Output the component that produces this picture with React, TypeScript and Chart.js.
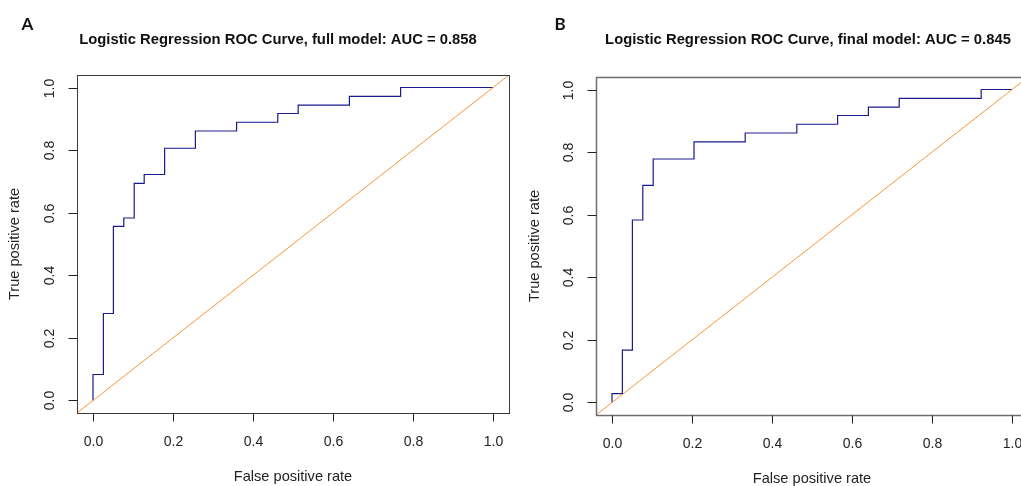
import React, { useEffect, useRef } from "react";
import { Chart, registerables } from "chart.js";

Chart.register(...registerables);

// ROC curve corners, full model (false positive rate / true positive rate)
const fprFull = [0, 0, 0.026, 0.026, 0.051, 0.051, 0.077, 0.077, 0.103, 0.103, 0.128, 0.128, 0.179, 0.179, 0.256, 0.256, 0.359, 0.359, 0.462, 0.462, 0.513, 0.513, 0.641, 0.641, 0.769, 0.769, 1];
const tprFull = [0, 0.083, 0.083, 0.278, 0.278, 0.556, 0.556, 0.583, 0.583, 0.694, 0.694, 0.722, 0.722, 0.806, 0.806, 0.861, 0.861, 0.889, 0.889, 0.917, 0.917, 0.944, 0.944, 0.972, 0.972, 1, 1];

// ROC curve corners, final model
const fprFinal = [0, 0, 0.026, 0.026, 0.051, 0.051, 0.077, 0.077, 0.103, 0.103, 0.205, 0.205, 0.333, 0.333, 0.462, 0.462, 0.564, 0.564, 0.641, 0.641, 0.718, 0.718, 0.923, 0.923, 1];
const tprFinal = [0, 0.028, 0.028, 0.167, 0.167, 0.583, 0.583, 0.694, 0.694, 0.778, 0.778, 0.833, 0.833, 0.861, 0.861, 0.889, 0.889, 0.917, 0.917, 0.944, 0.944, 0.972, 0.972, 1, 1];

// chance diagonal (y = x) across the plot region
const chanceX = [-0.04, 1.04];
const chanceY = [-0.04, 1.04];

const axisTicks = [0, 0.2, 0.4, 0.6, 0.8, 1.0];
const tickLabels = ["0.0", "0.2", "0.4", "0.6", "0.8", "1.0"];

const titleFull = "Logistic Regression ROC Curve, full model: AUC = 0.858";
const titleFinal = "Logistic Regression ROC Curve, final model: AUC = 0.845";
const xAxisTitle = "False positive rate";
const yAxisTitle = "True positive rate";

const SANS = "'Liberation Sans', Arial, sans-serif";

type PanelProps = {
  letter: string;
  letterX: number;
  title: string;
  titleX: number;
  fpr: number[];
  tpr: number[];
  left: number;
  padding: { left: number; right: number; top: number; bottom: number };
  boxColor: string;
  boxWidth: number;
};

const W = 520;
const H = 486;

function Panel(p: PanelProps) {
  const ref = useRef<HTMLCanvasElement | null>(null);
  useEffect(() => {
    if (!ref.current) return;
    const decor = {
      id: "rdecor",
      afterDraw(chart: any) {
        const ctx = chart.ctx as CanvasRenderingContext2D;
        const a = chart.chartArea;
        const xs = chart.scales.x;
        const ys = chart.scales.y;
        ctx.save();
        // box
        ctx.strokeStyle = p.boxColor;
        ctx.lineWidth = p.boxWidth;
        ctx.strokeRect(Math.round(a.left) + 0.5, Math.round(a.top) + 0.5, Math.round(a.right - a.left), Math.round(a.bottom - a.top));
        // ticks
        ctx.strokeStyle = "#222";
        ctx.lineWidth = 1;
        ctx.fillStyle = "#222";
        ctx.font = `14px ${SANS}`;
        ctx.textAlign = "center";
        ctx.textBaseline = "middle";
        const bottom = Math.round(a.bottom) + 0.5;
        const left = Math.round(a.left) + 0.5;
        axisTicks.forEach((v, i) => {
          const px = Math.round(xs.getPixelForValue(v)) + 0.5;
          ctx.beginPath();
          ctx.moveTo(px, bottom);
          ctx.lineTo(px, bottom + 8);
          ctx.stroke();
          ctx.fillText(tickLabels[i], px, a.bottom + 29);
          const py = Math.round(ys.getPixelForValue(v)) + 0.5;
          ctx.beginPath();
          ctx.moveTo(left - 9, py);
          ctx.lineTo(left, py);
          ctx.stroke();
          ctx.save();
          ctx.translate(a.left - 27, py);
          ctx.rotate(-Math.PI / 2);
          ctx.fillText(tickLabels[i], 0, 0);
          ctx.restore();
        });
        // axis titles
        ctx.font = `14.6px ${SANS}`;
        ctx.fillText(xAxisTitle, (a.left + a.right) / 2, a.bottom + 64);
        ctx.save();
        ctx.translate(15, (a.top + a.bottom) / 2);
        ctx.rotate(-Math.PI / 2);
        ctx.fillText(yAxisTitle, 0, 0);
        ctx.restore();
        // main title
        ctx.fillStyle = "#111";
        ctx.font = `bold 14.8px ${SANS}`;
        ctx.fillText(p.title, p.titleX, 40);
        // panel letter
        ctx.font = `bold 17px Lato, 'Open Sans', sans-serif`;
        ctx.fillText(p.letter, p.letterX, 25);
        ctx.restore();
      },
    };
    const chart = new Chart(ref.current, {
      type: "scatter",
      data: {
        datasets: [
          {
            data: chanceX.map((x, i) => ({ x, y: chanceY[i] })),
            showLine: true,
            borderColor: "#F7953A",
            borderWidth: 1,
            pointRadius: 0,
            order: 0,
          },
          {
            data: p.fpr.map((x, i) => ({ x, y: p.tpr[i] })),
            showLine: true,
            borderColor: "#1A1A90",
            borderWidth: 1.2,
            pointRadius: 0,
            order: 1,
          },
        ],
      },
      options: {
        animation: false,
        responsive: false,
        devicePixelRatio: 1,
        layout: { padding: p.padding },
        scales: {
          x: { type: "linear", min: -0.04, max: 1.04, display: false },
          y: { type: "linear", min: -0.04, max: 1.04, display: false },
        },
        plugins: { legend: { display: false }, tooltip: { enabled: false } },
      },
      plugins: [decor],
    } as any);
    return () => chart.destroy();
  }, []);
  return (
    <canvas
      ref={ref}
      width={W}
      height={H}
      style={{ position: "absolute", left: p.left, top: 0, width: W, height: H, display: "block" }}
    />
  );
}

export default function App() {
  return (
    <div
      style={{
        position: "fixed",
        left: 0,
        top: 0,
        width: 1021,
        height: 486,
        overflow: "hidden",
        background: "#fff",
      }}
    >
      <Panel
        letter="A"
        letterX={27.5}
        title={titleFull}
        titleX={278}
        fpr={fprFull}
        tpr={tprFull}
        left={0}
        padding={{ left: 77, right: 11, top: 75, bottom: 73 }}
        boxColor="#3a3a3a"
        boxWidth={1}
      />
      <Panel
        letter="B"
        letterX={40}
        title={titleFinal}
        titleX={288}
        fpr={fprFinal}
        tpr={tprFinal}
        left={520}
        padding={{ left: 76, right: 12, top: 77, bottom: 71 }}
        boxColor="#6e6e6e"
        boxWidth={1.5}
      />
    </div>
  );
}
